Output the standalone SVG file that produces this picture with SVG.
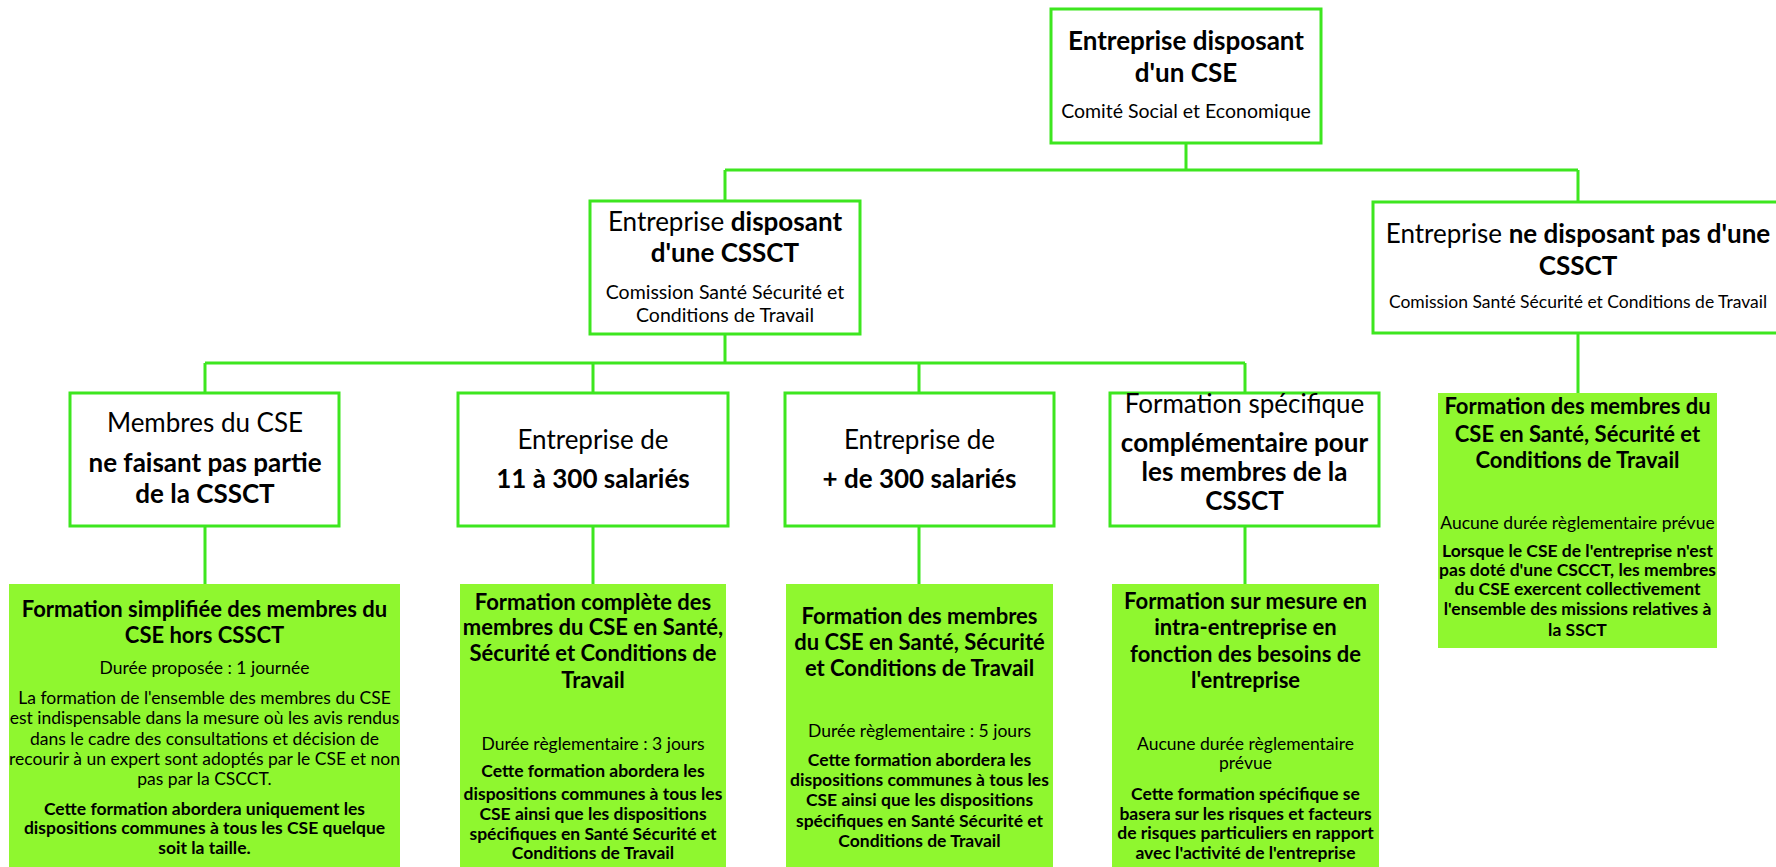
<svg xmlns="http://www.w3.org/2000/svg" width="1776" height="867" viewBox="0 0 1776 867">
<style>
.box{fill:#fff;stroke:#3de61f;stroke-width:3}
.gbox{fill:#8ff72f;stroke:none}
.con{stroke:#3de61f;stroke-width:3;fill:none}
text{font-family:Lato,"Liberation Sans",sans-serif;fill:#000;text-anchor:middle}
.b{font-weight:bold}
.h{font-size:26px}
.s{font-size:19.5px}
.s2{font-size:17.5px}
.gt{font-size:22px;font-weight:bold}
.gr{font-size:17.5px}
.gb{font-size:17.5px;font-weight:bold}
</style>
<rect width="1776" height="867" fill="#fff"/>
<g id="connectors">
<path class="con" d="M1186 143V170M725 170H1578M725 170V201M1578 170V202M725 334V363M205 363H1245M205 363V393M593 363V393M919 363V393M1245 363V393M205 526V584M593 526V584M919 526V584M1245 526V584M1578 333V393"/>
</g>
<g id="n-top">
<rect class="box" x="1051" y="9" width="270" height="134"/>
<text class="h b" x="1186" y="50">Entreprise disposant</text>
<text class="h b" x="1186" y="82">d'un CSE</text>
<text class="s" x="1186" y="118">Comité Social et Economique</text>
</g>
<g id="n-csscct">
<rect class="box" x="590" y="201" width="270" height="133"/>
<text class="h" x="725" y="231">Entreprise <tspan class="b">disposant</tspan></text>
<text class="h b" x="725" y="262">d'une CSSCT</text>
<text class="s" x="725" y="299">Comission Santé Sécurité et</text>
<text class="s" x="725" y="322">Conditions de Travail</text>
</g>
<g id="n-nocsscct">
<rect class="box" x="1373" y="202" width="410" height="131"/>
<text class="h" x="1578" y="243">Entreprise <tspan class="b">ne disposant pas d'une</tspan></text>
<text class="h b" x="1578" y="275">CSSCT</text>
<text class="s2" x="1578" y="308">Comission Santé Sécurité et Conditions de Travail</text>
</g>
<g id="n-membres">
<rect class="box" x="70" y="393" width="269" height="133"/>
<text class="h" x="205" y="432">Membres du CSE</text>
<text class="h b" x="205" y="472">ne faisant pas partie</text>
<text class="h b" x="205" y="503">de la CSSCT</text>
</g>
<g id="n-11-300">
<rect class="box" x="458" y="393" width="270" height="133"/>
<text class="h" x="593" y="449">Entreprise de</text>
<text class="h b" x="593" y="488">11 à 300 salariés</text>
</g>
<g id="n-300plus">
<rect class="box" x="785" y="393" width="269" height="133"/>
<text class="h" x="919.5" y="449">Entreprise de</text>
<text class="h b" x="919.5" y="488">+ de 300 salariés</text>
</g>
<g id="n-specifique">
<rect class="box" x="1110" y="393" width="269" height="133"/>
<text class="h" x="1244.5" y="413">Formation spécifique</text>
<text class="h b" x="1244.5" y="452">complémentaire pour</text>
<text class="h b" x="1244.5" y="481">les membres de la</text>
<text class="h b" x="1244.5" y="510">CSSCT</text>
</g>
<g id="g-simplifiee">
<rect class="gbox" x="9" y="584" width="391" height="290"/>
<text class="gt" x="204.5" y="617">Formation simplifiée des membres du</text>
<text class="gt" x="204.5" y="643">CSE hors CSSCT</text>
<text class="gr" x="204.5" y="674">Durée proposée : 1 journée</text>
<text class="gr" x="204.5" y="704">La formation de l'ensemble des membres du CSE</text>
<text class="gr" x="204.5" y="724">est indispensable dans la mesure où les avis rendus</text>
<text class="gr" x="204.5" y="745">dans le cadre des consultations et décision de</text>
<text class="gr" x="204.5" y="765">recourir à un expert sont adoptés par le CSE et non</text>
<text class="gr" x="204.5" y="785">pas par la CSCCT.</text>
<text class="gb" x="204.5" y="815">Cette formation abordera uniquement les</text>
<text class="gb" x="204.5" y="834">dispositions communes à tous les CSE quelque</text>
<text class="gb" x="204.5" y="854">soit la taille.</text>
</g>
<g id="g-complete">
<rect class="gbox" x="460" y="584" width="266" height="290"/>
<text class="gt" x="593" y="610">Formation complète des</text>
<text class="gt" x="593" y="635">membres du CSE en Santé,</text>
<text class="gt" x="593" y="661">Sécurité et Conditions de</text>
<text class="gt" x="593" y="688">Travail</text>
<text class="gr" x="593" y="750">Durée règlementaire : 3 jours</text>
<text class="gb" x="593" y="777">Cette formation abordera les</text>
<text class="gb" x="593" y="800">dispositions communes à tous les</text>
<text class="gb" x="593" y="820">CSE ainsi que les dispositions</text>
<text class="gb" x="593" y="840">spécifiques en Santé Sécurité et</text>
<text class="gb" x="593" y="859">Conditions de Travail</text>
</g>
<g id="g-5jours">
<rect class="gbox" x="786" y="584" width="267" height="290"/>
<text class="gt" x="919.5" y="624">Formation des membres</text>
<text class="gt" x="919.5" y="650">du CSE en Santé, Sécurité</text>
<text class="gt" x="919.5" y="676">et Conditions de Travail</text>
<text class="gr" x="919.5" y="737">Durée règlementaire : 5 jours</text>
<text class="gb" x="919.5" y="766">Cette formation abordera les</text>
<text class="gb" x="919.5" y="786">dispositions communes à tous les</text>
<text class="gb" x="919.5" y="806">CSE ainsi que les dispositions</text>
<text class="gb" x="919.5" y="827">spécifiques en Santé Sécurité et</text>
<text class="gb" x="919.5" y="847">Conditions de Travail</text>
</g>
<g id="g-surmesure">
<rect class="gbox" x="1112" y="584" width="267" height="290"/>
<text class="gt" x="1245.5" y="609">Formation sur mesure en</text>
<text class="gt" x="1245.5" y="635">intra-entreprise en</text>
<text class="gt" x="1245.5" y="662">fonction des besoins de</text>
<text class="gt" x="1245.5" y="688">l'entreprise</text>
<text class="gr" x="1245.5" y="750">Aucune durée règlementaire</text>
<text class="gr" x="1245.5" y="769">prévue</text>
<text class="gb" x="1245.5" y="800">Cette formation spécifique se</text>
<text class="gb" x="1245.5" y="820">basera sur les risques et facteurs</text>
<text class="gb" x="1245.5" y="839">de risques particuliers en rapport</text>
<text class="gb" x="1245.5" y="859">avec l'activité de l'entreprise</text>
</g>
<g id="g-sanscsscct">
<rect class="gbox" x="1438" y="393" width="279" height="255"/>
<text class="gt" x="1577.5" y="414">Formation des membres du</text>
<text class="gt" x="1577.5" y="442">CSE en Santé, Sécurité et</text>
<text class="gt" x="1577.5" y="468">Conditions de Travail</text>
<text class="gr" x="1577.5" y="529">Aucune durée règlementaire prévue</text>
<text class="gb" x="1577.5" y="557">Lorsque le CSE de l'entreprise n'est</text>
<text class="gb" x="1577.5" y="576">pas doté d'une CSCCT, les membres</text>
<text class="gb" x="1577.5" y="595">du CSE exercent collectivement</text>
<text class="gb" x="1577.5" y="615">l'ensemble des missions relatives à</text>
<text class="gb" x="1577.5" y="636">la SSCT</text>
</g>
</svg>
